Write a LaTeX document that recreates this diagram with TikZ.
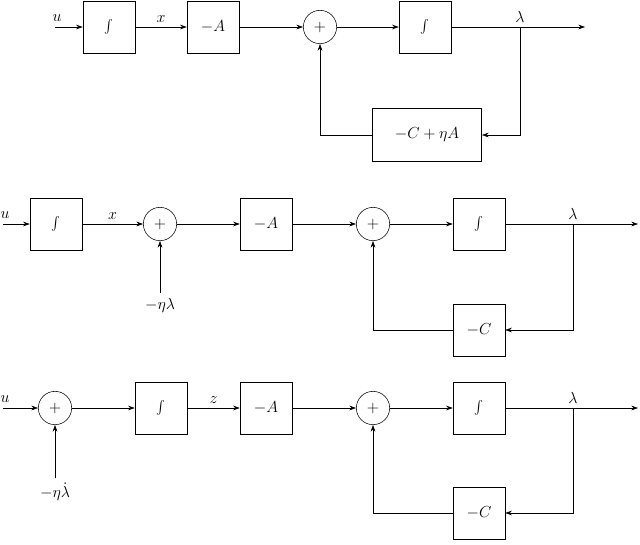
\documentclass[tikz,border=0pt]{standalone}
\usetikzlibrary{arrows.meta}
\begin{document}
\begin{tikzpicture}[x=0.75pt,y=-0.75pt,
 every node/.style={font=\large},
 blk/.style={draw,minimum width=39pt,minimum height=39pt,inner sep=0pt},
 sm/.style={draw,circle,minimum size=25pt,inner sep=0pt},
 >={Stealth[length=5pt,width=3.5pt]}, every path/.style={thin}]
\useasboundingbox (0,0) rectangle (640,544);
% row 1
\coordinate (u1) at (55,27);
\node[blk] (i1) at (109,27) {$\int$};
\node[blk] (a1) at (213,27) {$-A$};
\node[sm] (s1) at (320,27) {$+$};
\node[blk] (j1) at (425,27) {$\int$};
\coordinate (t1) at (520,27);
\coordinate (o1) at (585,27);
\node[blk,minimum width=82pt,minimum height=40pt] (f1) at (427,135) {$-C+\eta A$};
\node[anchor=south] at (57,26) {$u$};
\draw[->] (u1) -- (i1);
\draw[->] (i1) -- node[above]{$x$} (a1);
\draw[->] (a1) -- (s1);
\draw[->] (s1) -- (j1);
\draw[->] (j1) -- (o1);
\node[anchor=south] at (t1) {$\lambda$};
\draw[->] (t1) |- (f1);
\draw[->] (f1) -| (s1);
% row 2
\coordinate (u2) at (3,224);
\node[blk] (i2) at (56,224) {$\int$};
\node[sm] (p2) at (160,224) {$+$};
\node[blk] (a2) at (266,224) {$-A$};
\node[sm] (s2) at (373,224) {$+$};
\node[blk] (j2) at (479,224) {$\int$};
\coordinate (t2) at (573,224);
\coordinate (o2) at (638,224);
\node[blk] (f2) at (479,330) {$-C$};
\node (e2) at (160,305) {$-\eta\lambda$};
\node[anchor=south] at (5,223) {$u$};
\draw[->] (u2) -- (i2);
\draw[->] (i2) -- node[above]{$x$} (p2);
\draw[->] (e2) -- (p2);
\draw[->] (p2) -- (a2);
\draw[->] (a2) -- (s2);
\draw[->] (s2) -- (j2);
\draw[->] (j2) -- (o2);
\node[anchor=south] at (t2) {$\lambda$};
\draw[->] (t2) |- (f2);
\draw[->] (f2) -| (s2);
% row 3
\coordinate (u3) at (3,408);
\node[sm] (p3) at (55,408) {$+$};
\node[blk] (i3) at (161,408) {$\int$};
\node[blk] (a3) at (266,408) {$-A$};
\node[sm] (s3) at (373,408) {$+$};
\node[blk] (j3) at (479,408) {$\int$};
\coordinate (t3) at (573,408);
\coordinate (o3) at (638,408);
\node[blk] (f3) at (479,513) {$-C$};
\node (e3) at (55,492) {$-\eta\dot\lambda$};
\node[anchor=south] at (5,407) {$u$};
\draw[->] (u3) -- (p3);
\draw[->] (e3) -- (p3);
\draw[->] (p3) -- (i3);
\draw[->] (i3) -- node[above]{$z$} (a3);
\draw[->] (a3) -- (s3);
\draw[->] (s3) -- (j3);
\draw[->] (j3) -- (o3);
\node[anchor=south] at (t3) {$\lambda$};
\draw[->] (t3) |- (f3);
\draw[->] (f3) -| (s3);
\end{tikzpicture}
\end{document}
